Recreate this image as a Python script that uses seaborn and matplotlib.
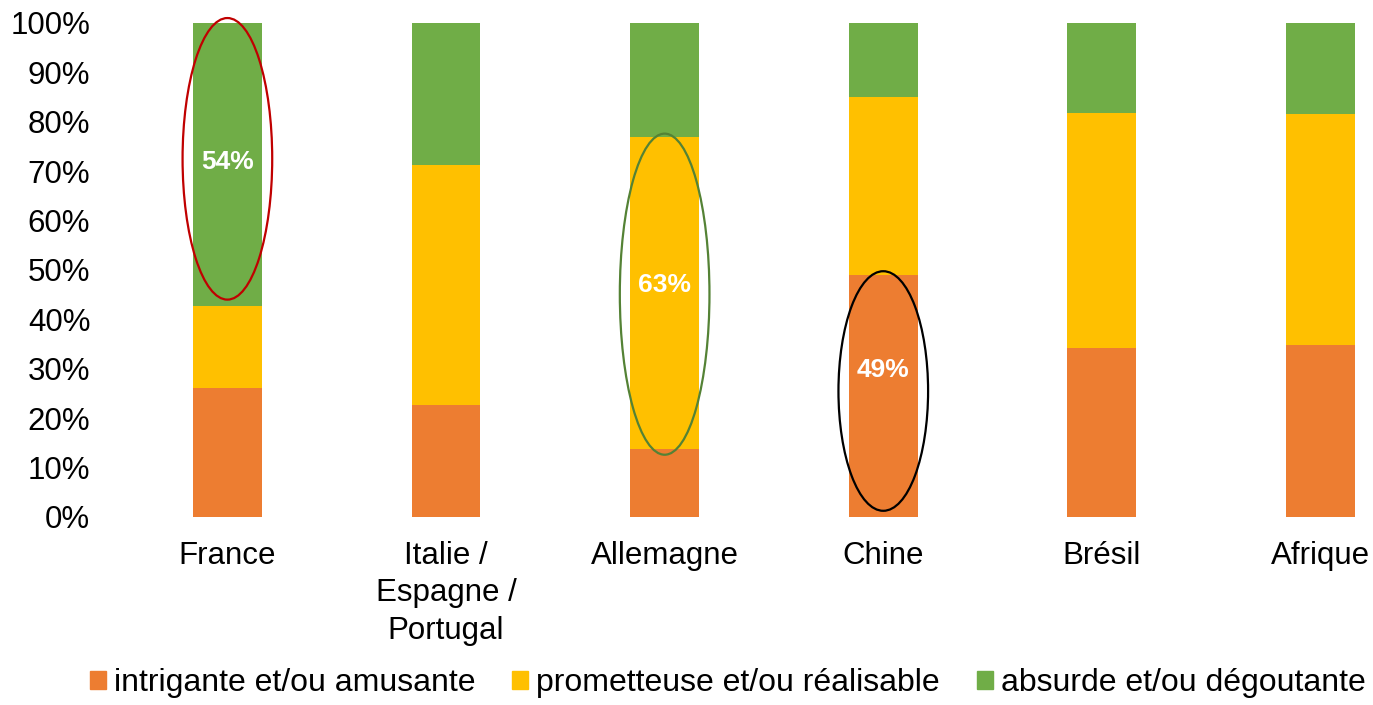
import pandas as pd
import matplotlib.pyplot as plt
import seaborn as sns
from matplotlib.patches import Ellipse
from matplotlib.ticker import PercentFormatter

# Data (in %)
# -------------------------------------------------------------
regions = ["France", "Italie /\nEspagne /\nPortugal", "Allemagne", "Chine", "Brésil", "Afrique"]
intrigante = [26.2, 22.7, 13.8, 49.0, 34.2, 34.8]
prometteuse = [16.5, 48.6, 63.1, 36.0, 47.6, 46.8]
absurde = [57.3, 28.7, 23.1, 15.0, 18.2, 18.4]

series_labels = ["intrigante et/ou amusante", "prometteuse et/ou réalisable", "absurde et/ou dégoutante"]
COLORS = ["#ED7D31", "#FFC000", "#70AD47"]

# highlighted segments: (region index, label, label %, ellipse centre %, ellipse height %, colour)
highlights = [
    (0, "54%", 71.8, 72.5, 57.0, "#C00000"),
    (2, "63%", 47.0, 45.1, 65.0, "#548235"),
    (3, "49%", 29.8, 25.5, 48.5, "#000000"),
]

df = pd.DataFrame({"region": regions,
                   "intrigante": intrigante,
                   "prometteuse": prometteuse,
                   "absurde": absurde})
df["top1"] = df["intrigante"]
df["top2"] = df["intrigante"] + df["prometteuse"]
df["top3"] = df["top2"] + df["absurde"]

# Plot
# -------------------------------------------------------------
sns.set_style("white")
plt.rcParams["font.family"] = ["Liberation Sans", "DejaVu Sans"]
plt.rcParams["text.color"] = "black"
plt.rcParams["xtick.color"] = "black"
plt.rcParams["ytick.color"] = "black"

fig = plt.figure(figsize=(13.73, 7.05), dpi=100)
ax = fig.add_axes([0.086, 0.2667, 0.914, 0.7007])

# stacked bars: draw cumulative tops from the largest down
for col, color in zip(["top3", "top2", "top1"], COLORS[::-1]):
    sns.barplot(data=df, x="region", y=col, color=color, width=0.315,
                saturation=1, linewidth=0, ax=ax, zorder=2)

ax.set_xlim(-0.5, 5.24)
ax.set_ylim(0, 100)
ax.set_yticks(range(0, 101, 10))
ax.yaxis.set_major_formatter(PercentFormatter(decimals=0))
ax.set_xlabel("")
ax.set_ylabel("")
ax.tick_params(axis="y", labelsize=22.5, length=0, pad=20)
ax.tick_params(axis="x", labelsize=22.5, length=0, pad=17)
for lbl in ax.get_xticklabels():
    lbl.set_linespacing(1.33)
sns.despine(ax=ax, left=True, bottom=True)

for idx, txt, ty, cy, h, ec in highlights:
    ax.add_patch(Ellipse((idx, cy), width=0.41, height=h, fill=False,
                         edgecolor=ec, linewidth=1.6, zorder=4, clip_on=False))
    ax.text(idx, ty, txt, color="white", fontsize=19, fontweight="bold",
            ha="center", va="center", zorder=5)

handles = [plt.Rectangle((0, 0), 1, 1, color=c) for c in COLORS]
fig.legend(handles, series_labels, loc="lower center", ncol=3, frameon=False,
           fontsize=23, bbox_to_anchor=(0.53, -0.031), handlelength=0.5,
           handleheight=0.5, handletextpad=0.25, columnspacing=1.15)

plt.savefig("out.png", dpi=100)
